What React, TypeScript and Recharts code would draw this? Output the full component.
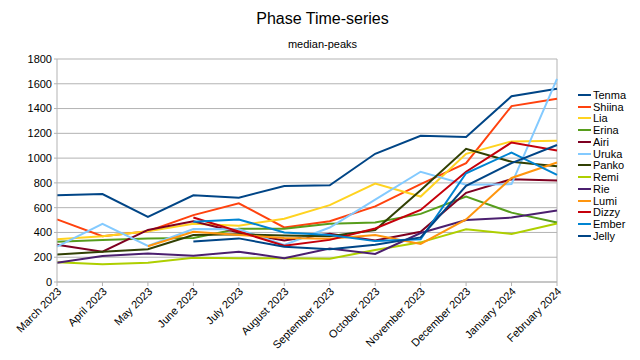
import { CartesianGrid, Line, LineChart, ReferenceLine, XAxis, YAxis } from "recharts";

const months = [
  "March 2023", "April 2023", "May 2023", "June 2023", "July 2023", "August 2023",
  "September 2023", "October 2023", "November 2023", "December 2023", "January 2024", "February 2024",
];

const yTicks = [0, 200, 400, 600, 800, 1000, 1200, 1400, 1600, 1800];

const tenma = [700, 710, 525, 700, 680, 775, 780, 1035, 1180, 1170, 1500, 1560];
const shiina = [505, 370, 410, 540, 635, 440, 490, 610, 790, 960, 1420, 1480];
const lia = [345, 370, 410, 470, 455, 510, 620, 795, 690, 1035, 1135, 1140];
const erina = [325, 340, 352, 355, 430, 430, 470, 480, 550, 690, 560, 480];
const airi = [300, 245, 420, 490, 400, 335, 390, 335, 405, 720, 830, 820];
const uruka = [285, 470, 292, 428, 425, 300, 440, 665, 890, 785, 790, 1640];
const panko = [222, 245, 264, 380, 385, 375, 370, 420, 740, 1075, 970, 935];
const remi = [160, 143, 155, 195, 192, 192, 188, 258, 320, 425, 388, 472];
const rie = [155, 210, 230, 212, 245, 192, 270, 226, 395, 500, 520, 578];
const lumi = [null, null, 288, 405, 380, 355, 350, 380, 307, 505, 840, 965];
const dizzy = [null, null, null, 520, 407, 292, 340, 432, 582, 890, 1126, 1062];
const ember = [null, null, null, 487, 505, 400, 380, 330, 345, 878, 1045, 865];
const jelly = [null, null, null, 326, 352, 285, 264, 300, 360, 776, 960, 1106];

const series = [
  { name: "Tenma", values: tenma, color: "#004586" },
  { name: "Shiina", values: shiina, color: "#ff420e" },
  { name: "Lia", values: lia, color: "#ffd320" },
  { name: "Erina", values: erina, color: "#579d1c" },
  { name: "Airi", values: airi, color: "#7e0021" },
  { name: "Uruka", values: uruka, color: "#83caff" },
  { name: "Panko", values: panko, color: "#314004" },
  { name: "Remi", values: remi, color: "#aecf00" },
  { name: "Rie", values: rie, color: "#4b1f6f" },
  { name: "Lumi", values: lumi, color: "#ff950e" },
  { name: "Dizzy", values: dizzy, color: "#c5000b" },
  { name: "Ember", values: ember, color: "#0084d1" },
  { name: "Jelly", values: jelly, color: "#004586" },
];

const data = months.map((month, i) => {
  const row: Record<string, string | number | null> = { month };
  series.forEach((s) => {
    row[s.name] = s.values[i];
  });
  return row;
});

const font = "'Liberation Sans', Arial, sans-serif";

function MonthTick(props: any) {
  const { x, y, payload } = props;
  return (
    <text
      transform={`translate(${x + 3},${y + 2}) rotate(-45)`}
      textAnchor="end"
      dominantBaseline="middle"
      fontSize={11}
      fontFamily={font}
      fill="#000"
    >
      {payload.value}
    </text>
  );
}

export default function App() {
  return (
    <div style={{ position: "absolute", left: 0, top: 0, width: 640, height: 360, background: "#fff", fontFamily: font }}>
      <div style={{ position: "absolute", left: 0, width: 645, top: 10, textAlign: "center", fontSize: 16, color: "#000" }}>
        Phase Time-series
      </div>
      <div style={{ position: "absolute", left: 0, width: 645, top: 38, textAlign: "center", fontSize: 11, color: "#000" }}>
        median-peaks
      </div>
      <LineChart width={640} height={360} data={data} margin={{ top: 59, right: 83, bottom: 0, left: 0 }}>
        <CartesianGrid vertical={false} stroke="#b3b3b3" />
        <XAxis
          dataKey="month"
          height={78}
          interval={0}
          padding={{ left: 0, right: 0 }}
          tick={<MonthTick />}
          tickSize={4}
          axisLine={{ stroke: "#b3b3b3" }}
          tickLine={{ stroke: "#b3b3b3" }}
        />
        <YAxis
          width={57}
          domain={[0, 1800]}
          ticks={yTicks}
          interval={0}
          tickSize={3}
          tick={{ fontSize: 11, fill: "#000", fontFamily: font }}
          axisLine={{ stroke: "#b3b3b3" }}
          tickLine={{ stroke: "#b3b3b3" }}
        />
        <ReferenceLine x="February 2024" stroke="#b3b3b3" />
        {series.map((s) => (
          <Line
            key={s.name}
            type="linear"
            dataKey={s.name}
            stroke={s.color}
            strokeWidth={2}
            dot={false}
            isAnimationActive={false}
          />
        ))}
      </LineChart>
      <div style={{ position: "absolute", left: 578, top: 89 }}>
        {series.map((s) => (
          <div key={s.name} style={{ height: 11.75, display: "flex", alignItems: "center", fontSize: 11, color: "#000" }}>
            <span style={{ display: "inline-block", width: 13, height: 2, background: s.color, marginRight: 2 }} />
            {s.name}
          </div>
        ))}
      </div>
    </div>
  );
}
